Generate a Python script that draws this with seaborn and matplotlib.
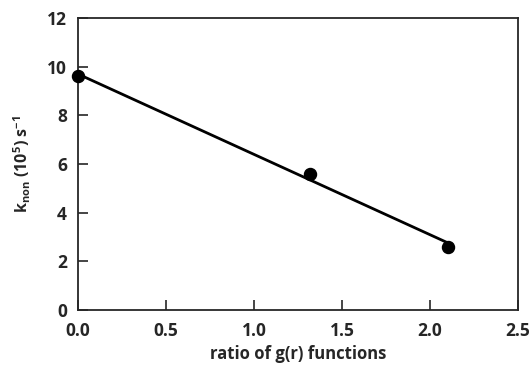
import numpy as np
import pandas as pd
import matplotlib
matplotlib.use("Agg")
import matplotlib.pyplot as plt
import seaborn as sns

# données
ratio = [0.0, 1.32, 2.1]
knon = [9.6, 5.6, 2.6]
df = pd.DataFrame({"ratio": ratio, "knon": knon})

sns.set_style("ticks")
plt.rcParams["font.family"] = ["Open Sans", "DejaVu Sans"]
plt.rcParams["font.weight"] = "bold"
plt.rcParams["axes.unicode_minus"] = False
plt.rcParams["mathtext.fontset"] = "custom"
plt.rcParams["mathtext.bf"] = "Open Sans:bold"
plt.rcParams["mathtext.rm"] = "Open Sans:bold"
plt.rcParams["mathtext.default"] = "bf"

fig = plt.figure(figsize=(5.32, 3.65), dpi=100)
ax = fig.add_axes([78 / 532, 1 - 310 / 365, 440 / 532, 292 / 365])

sns.regplot(data=df, x="ratio", y="knon", ax=ax, ci=None, truncate=True,
            color="black",
            scatter_kws=dict(s=75, zorder=3, clip_on=False, alpha=1, edgecolor="black"),
            line_kws=dict(lw=2))

xt = np.arange(0, 2.51, 0.5)
ax.set_xlim(0, 2.5)
ax.set_ylim(0, 12)
ax.set_xticks(xt)
ax.set_yticks(np.arange(0, 12.1, 2))
ax.set_xticklabels([f"{v:.1f}" for v in xt])
ax.tick_params(direction="in", length=7, width=1.2, labelsize=12.5)
ax.tick_params(axis="x", pad=9)
ax.tick_params(axis="y", pad=8)
for sp in ax.spines.values():
    sp.set_linewidth(1.3)
    sp.set_visible(True)

ax.set_xlabel("ratio of g(r) functions", fontsize=12, fontweight="bold", labelpad=3)
ax.set_ylabel(r"k$_{non}$ (10$^{5}$) s$^{-1}$", fontsize=11.5,
              fontweight="bold", labelpad=10)

fig.savefig("out.png", dpi=100)
